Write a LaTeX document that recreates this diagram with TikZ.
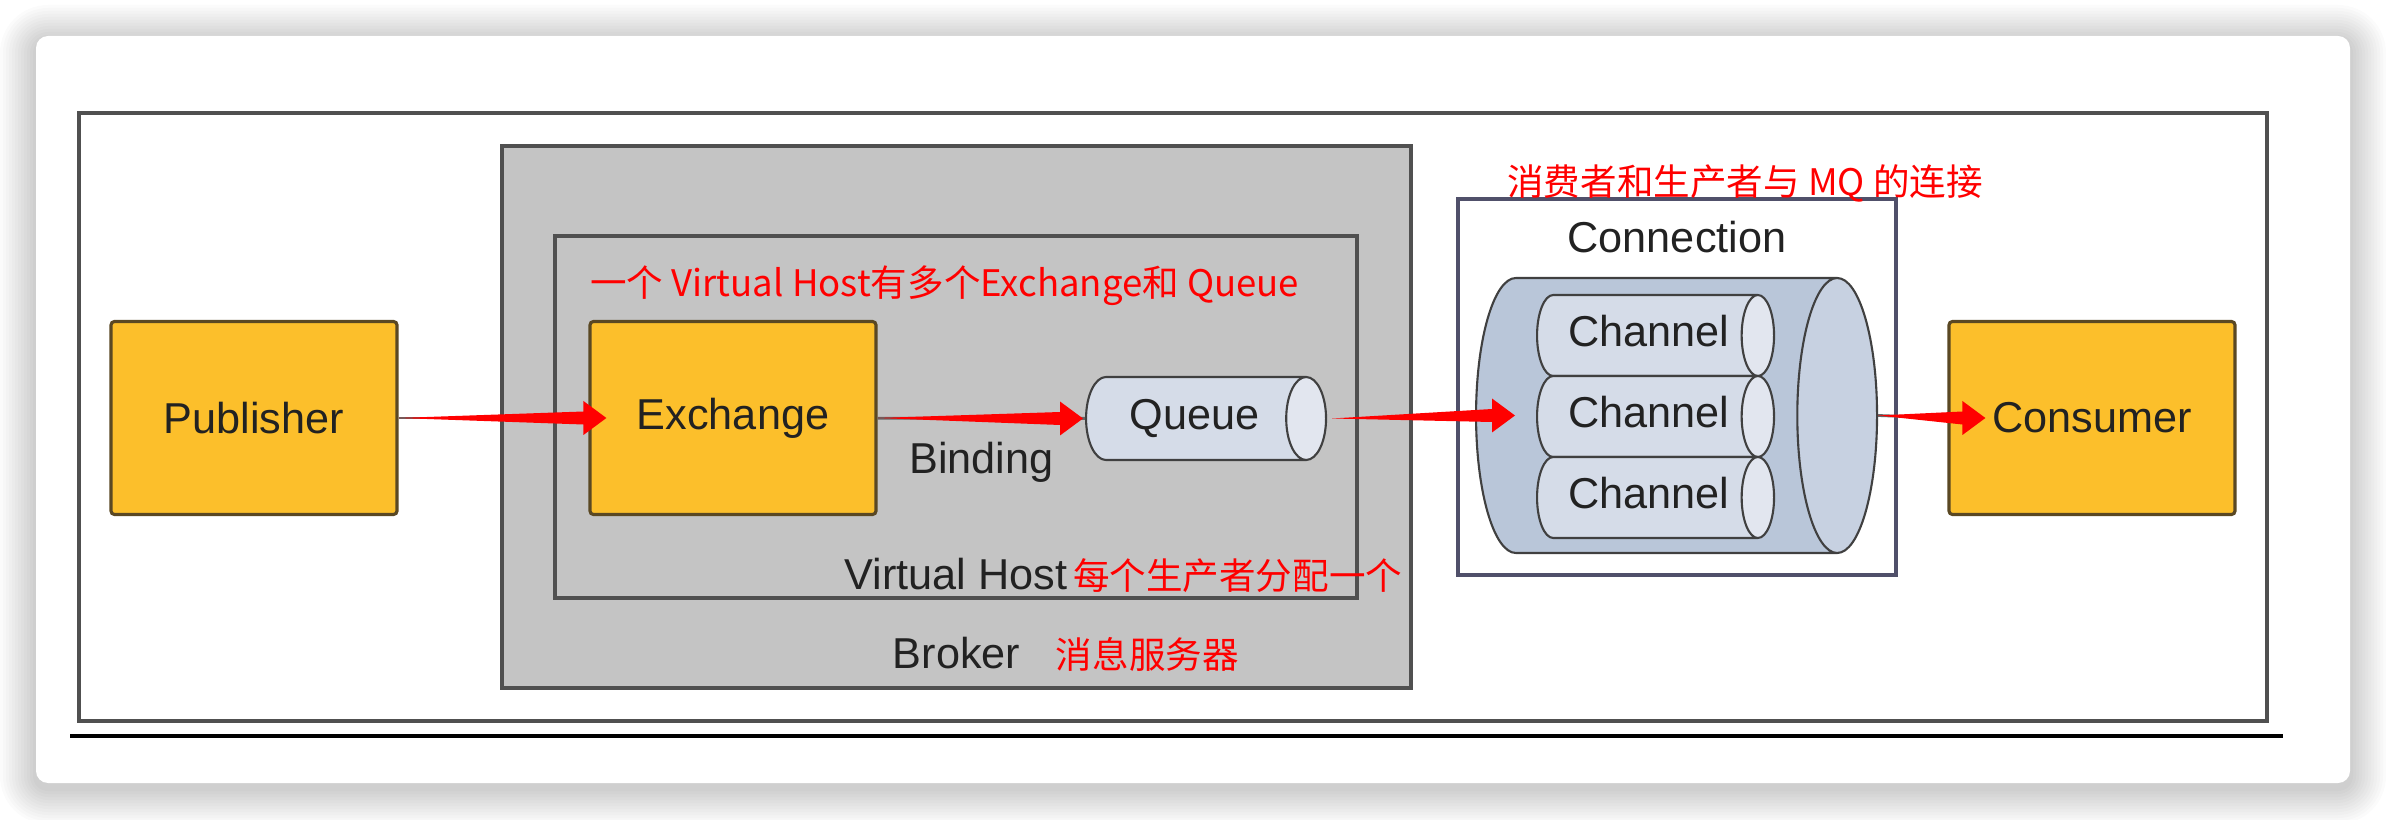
\documentclass[tikz,border=0pt]{standalone}
\usepackage{fontspec}
\setmainfont{Liberation Sans}
\newfontfamily\cjk{Noto Sans CJK SC}
\usetikzlibrary{arrows.meta, positioning, shapes, calc, backgrounds}

\definecolor{boxyellow}{HTML}{FCBF2B}
\definecolor{boxedge}{HTML}{5A4823}
\definecolor{brokergray}{HTML}{C4C4C4}
\definecolor{edgegray}{HTML}{505050}
\definecolor{connedge}{HTML}{50506A}
\definecolor{chanblue}{HTML}{D5DCE8}
\definecolor{connblue}{HTML}{B9C6D9}
\definecolor{txtdark}{HTML}{222222}

% tapered red arrow, tail at #1, tip at #2
\newcommand{\redarrow}[2]{%
  \fill[red] (#1) -- ($(#2)+(-0.23,0.065)$) -- ($(#2)+(-0.23,0.17)$) -- (#2)
     -- ($(#2)+(-0.23,-0.17)$) -- ($(#2)+(-0.23,-0.065)$) -- cycle;}

\begin{document}
\begin{tikzpicture}[thick]

   \tikzstyle{actor}=[rectangle, rounded corners=1pt, line width=0.9pt, draw=boxedge, fill=boxyellow, text=txtdark, minimum width=2.86cm, minimum height=1.93cm, font=\fontsize{12.3}{14}\selectfont]
   \tikzstyle{frame}=[rectangle, line width=0.9pt, draw=edgegray, inner sep=0pt]
   \tikzstyle{pipe}=[cylinder, anchor=west, draw=black!75, line width=0.6pt, cylinder uses custom fill, cylinder body fill=chanblue, cylinder end fill=chanblue!70!white, text=txtdark, inner xsep=0pt, text height=0.31cm, text depth=0.08cm, font=\fontsize{12.3}{14}\selectfont]
   \tikzstyle{lbl}=[inner sep=0pt, text=txtdark, font=\fontsize{12.3}{14}\selectfont]
   \tikzstyle{note}=[inner sep=0pt, text=red, font=\cjk\fontsize{10.4}{12}\selectfont]
   \tikzstyle{link}=[line width=0.8pt, draw=black!60]

   \useasboundingbox (0,0) rectangle (23.86,-8.20);
   \fill[white] (0,0) rectangle (23.86,-8.20);

   % card with soft shadow
   \foreach \s in {1,...,12}
      \fill[black, opacity=0.014, rounded corners=0.12cm+\s*0.03cm] (0.36-\s*0.03,-0.36+\s*0.03-0.05) rectangle (23.50+\s*0.03,-7.83-\s*0.03-0.05);
   \fill[white, rounded corners=0.12cm] (0.36,-0.36) rectangle (23.50,-7.83);
   \draw[line width=0.9pt, draw=edgegray] (0.79,-1.13) rectangle (22.67,-7.21);
   \draw[line width=1.2pt, black] (0.70,-7.36) -- (22.83,-7.36);

   \node[frame, fill=brokergray, minimum width=9.09cm, minimum height=5.42cm] (broker) at (9.565,-4.17) {};
   \node[frame, fill=brokergray, minimum width=8.02cm, minimum height=3.62cm] (vhost) at (9.56,-4.17) {};
   \node[frame, fill=white, draw=connedge, minimum width=4.38cm, minimum height=3.76cm] (conn) at (16.77,-3.87) {};

   \node[actor] (pub) at (2.54,-4.18) {Publisher};
   \node[actor] (exc) at (7.33,-4.18) {Exchange};
   \node[actor] (cons) at (20.92,-4.18) {Consumer};

   % cylinder: minimum width is the diameter, minimum height the length
   \node[pipe, aspect=0.48, inner ysep=0.22cm, minimum height=2.40cm, minimum width=0.83cm] (queue) at (10.85,-4.185) {\hspace*{0.16cm}Queue};

   \node[pipe, aspect=0.29, text height=0pt, text depth=0pt, inner ysep=1.375cm, cylinder body fill=connblue, cylinder end fill=connblue!80!white, minimum height=4.01cm, minimum width=2.75cm] (bigpipe) at (14.75,-4.155) {};
   \node[pipe, aspect=0.40, inner ysep=0.21cm, minimum height=2.37cm, minimum width=0.81cm] (ch1) at (15.36,-3.355) {\hspace*{0.18cm}Channel};
   \node[pipe, aspect=0.40, inner ysep=0.21cm, minimum height=2.37cm, minimum width=0.81cm] (ch2) at (15.36,-4.165) {\hspace*{0.18cm}Channel};
   \node[pipe, aspect=0.40, inner ysep=0.21cm, minimum height=2.37cm, minimum width=0.81cm] (ch3) at (15.36,-4.975) {\hspace*{0.18cm}Channel};

   \node[lbl] (connlbl) at ($(conn.north)+(0,-0.40)$) {Connection};
   \node[lbl] (vhlbl) at ($(vhost.south)+(0,0.26)$) {Virtual Host};
   \node[lbl] (brokerlbl) at ($(broker.south)+(0,0.37)$) {Broker};

   \node[note, anchor=base west] (vhnote) at ($(vhlbl.base east)+(0.03,0)$) {每个生产者分配一个};
   \node[note, anchor=base west] (brokernote) at ($(brokerlbl.base east)+(0.33,0)$) {消息服务器};
   \node[note, anchor=west] (exnote) at (5.89,-2.86) {一个 Virtual Host有多个Exchange和 Queue};
   \node[note, anchor=west] (mqnote) at (15.06,-1.83) {消费者和生产者与 MQ 的连接};

   \draw[link] (pub) -- (exc);
   \draw[link] (exc) -- node[lbl, below=0.22cm] (bindlbl) {Binding} (queue);
   \draw[link] (bigpipe.east) -- (cons.west);

   \redarrow{pub.east}{$(exc.west)+(0.18,0)$}
   \redarrow{exc.east}{$(queue.west)+(-0.02,0)$}
   \redarrow{$(queue.east)+(0.05,0)$}{$(bigpipe.west)+(0.40,0)$}
   \redarrow{bigpipe.east}{$(cons.west)+(0.38,0)$}
\end{tikzpicture}
\end{document}
